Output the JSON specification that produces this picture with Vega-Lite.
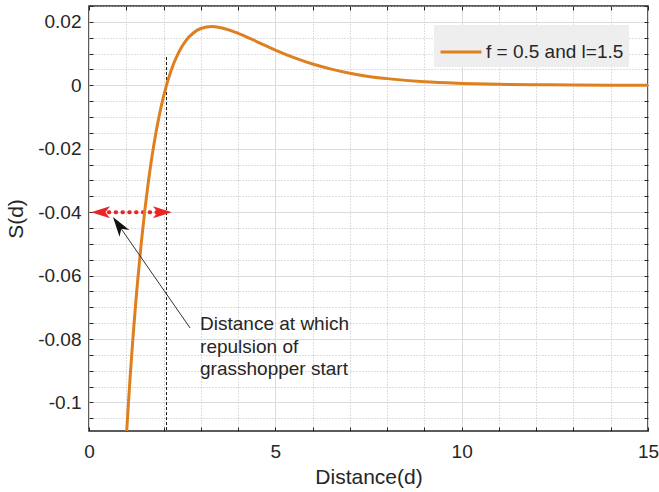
{
  "$schema": "https://vega.github.io/schema/vega-lite/v6.json",
  "width": 559,
  "height": 425,
  "autosize": "none",
  "padding": {"left": 89, "top": 6, "right": 11, "bottom": 61},
  "background": "white",
  "config": {
    "font": "Liberation Sans",
    "view": {"stroke": "#262626", "strokeWidth": 1.5},
    "axis": {
      "labelFont": "Liberation Sans",
      "titleFont": "Liberation Sans",
      "labelColor": "#262626",
      "titleColor": "#262626",
      "tickColor": "#262626",
      "domain": false,
      "labelFontSize": 19,
      "titleFontSize": 21,
      "titleFontWeight": "normal",
      "labelOverlap": false,
      "labelFlush": false
    }
  },
  "datasets": {
    "curve": [
      {"x": 0.95, "y": -0.1213, "series": "f = 0.5 and l=1.5"},
      {"x": 1.0, "y": -0.1112, "series": "f = 0.5 and l=1.5"},
      {"x": 1.05, "y": -0.1017, "series": "f = 0.5 and l=1.5"},
      {"x": 1.1, "y": -0.0927, "series": "f = 0.5 and l=1.5"},
      {"x": 1.15, "y": -0.0844, "series": "f = 0.5 and l=1.5"},
      {"x": 1.2, "y": -0.0765, "series": "f = 0.5 and l=1.5"},
      {"x": 1.25, "y": -0.0692, "series": "f = 0.5 and l=1.5"},
      {"x": 1.3, "y": -0.0624, "series": "f = 0.5 and l=1.5"},
      {"x": 1.4, "y": -0.0500, "series": "f = 0.5 and l=1.5"},
      {"x": 1.5, "y": -0.0392, "series": "f = 0.5 and l=1.5"},
      {"x": 1.6, "y": -0.0298, "series": "f = 0.5 and l=1.5"},
      {"x": 1.7, "y": -0.0217, "series": "f = 0.5 and l=1.5"},
      {"x": 1.8, "y": -0.0147, "series": "f = 0.5 and l=1.5"},
      {"x": 1.9, "y": -0.0087, "series": "f = 0.5 and l=1.5"},
      {"x": 2.0, "y": -0.0035, "series": "f = 0.5 and l=1.5"},
      {"x": 2.2, "y": 0.0046, "series": "f = 0.5 and l=1.5"},
      {"x": 2.4, "y": 0.0102, "series": "f = 0.5 and l=1.5"},
      {"x": 2.6, "y": 0.0141, "series": "f = 0.5 and l=1.5"},
      {"x": 2.8, "y": 0.0165, "series": "f = 0.5 and l=1.5"},
      {"x": 3.0, "y": 0.0179, "series": "f = 0.5 and l=1.5"},
      {"x": 3.3, "y": 0.0185, "series": "f = 0.5 and l=1.5"},
      {"x": 3.6, "y": 0.0180, "series": "f = 0.5 and l=1.5"},
      {"x": 4.0, "y": 0.0164, "series": "f = 0.5 and l=1.5"},
      {"x": 4.5, "y": 0.0138, "series": "f = 0.5 and l=1.5"},
      {"x": 5.0, "y": 0.0111, "series": "f = 0.5 and l=1.5"},
      {"x": 5.5, "y": 0.0087, "series": "f = 0.5 and l=1.5"},
      {"x": 6.0, "y": 0.0067, "series": "f = 0.5 and l=1.5"},
      {"x": 6.5, "y": 0.0051, "series": "f = 0.5 and l=1.5"},
      {"x": 7.0, "y": 0.0038, "series": "f = 0.5 and l=1.5"},
      {"x": 7.5, "y": 0.0028, "series": "f = 0.5 and l=1.5"},
      {"x": 8.0, "y": 0.0021, "series": "f = 0.5 and l=1.5"},
      {"x": 9.0, "y": 0.0011, "series": "f = 0.5 and l=1.5"},
      {"x": 10.0, "y": 0.0006, "series": "f = 0.5 and l=1.5"},
      {"x": 11.0, "y": 0.0003, "series": "f = 0.5 and l=1.5"},
      {"x": 12.0, "y": 0.00016, "series": "f = 0.5 and l=1.5"},
      {"x": 13.0, "y": 0.00008, "series": "f = 0.5 and l=1.5"},
      {"x": 14.0, "y": 0.00004, "series": "f = 0.5 and l=1.5"},
      {"x": 15.0, "y": 0.00002, "series": "f = 0.5 and l=1.5"}
    ],
    "vdash": [{"x": 2.08, "y": 0.0089, "y2": -0.109}],
    "reddots": [{"x": 0.35, "x2": 1.95, "y": -0.04}],
    "redheads": [
      {"x": 0.31, "y": -0.04, "dir": "left"},
      {"x": 1.97, "y": -0.04, "dir": "right"}
    ],
    "shaft": [{"x": 2.711, "y": -0.0765, "x2": 0.797, "y2": -0.0441}],
    "blackhead": [{"x": 0.797, "y": -0.0441}],
    "notes": [
      {"x": 2.98, "y": -0.0772, "t": "Distance at which"},
      {"x": 2.98, "y": -0.0843, "t": "repulsion of"},
      {"x": 2.98, "y": -0.0913, "t": "grasshopper start"}
    ]
  },
  "encoding": {
    "x": {"field": "x", "type": "quantitative", "scale": {"domain": [0, 15], "nice": false, "zero": false}, "axis": null},
    "y": {"field": "y", "type": "quantitative", "scale": {"domain": [-0.109, 0.025], "nice": false, "zero": false}, "axis": null}
  },
  "layer": [
    {
      "data": {"name": "vdash"},
      "mark": {"type": "rule", "color": "#1a1a1a", "strokeWidth": 1, "strokeDash": [3, 2]},
      "encoding": {
        "y2": {"field": "y2"}
      }
    },
    {
      "data": {"name": "reddots"},
      "mark": {"type": "rule", "color": "#e8262a", "strokeWidth": 4, "strokeCap": "round", "strokeDash": [0.5, 6.3]},
      "encoding": {
        "x2": {"field": "x2"}
      }
    },
    {
      "data": {"name": "redheads"},
      "mark": {"type": "point", "filled": true, "color": "#e8262a", "opacity": 1, "size": 361},
      "encoding": {
        "shape": {
          "field": "dir",
          "type": "nominal",
          "scale": {"domain": ["left", "right"], "range": ["M-1,0L1,-0.63L0.5,0L1,0.63Z", "M1,0L-1,-0.63L-0.5,0L-1,0.63Z"]},
          "legend": null
        }
      }
    },
    {
      "data": {"name": "curve"},
      "mark": {"type": "line", "strokeWidth": 3, "interpolate": "monotone", "clip": true},
      "encoding": {
        "x": {
          "field": "x", "type": "quantitative",
          "scale": {"domain": [0, 15], "nice": false, "zero": false},
          "axis": {
            "orient": "bottom",
            "title": "Distance(d)",
            "values": [0, 1, 2, 3, 4, 5, 6, 7, 8, 9, 10, 11, 12, 13, 14, 15],
            "labelExpr": "datum.value % 5 === 0 ? datum.label : ''",
            "tickSize": -4,
            "labelPadding": 15,
            "titlePadding": 5,
            "grid": true,
            "gridColor": {"condition": {"test": "datum.value % 5 === 0", "value": "#dcdcdc"}, "value": "#bdbdbd"},
            "gridDash": {"condition": {"test": "datum.value % 5 === 0", "value": []}, "value": [1, 2]}
          }
        },
        "y": {
          "field": "y", "type": "quantitative",
          "scale": {"domain": [-0.109, 0.025], "nice": false, "zero": false},
          "axis": {
            "orient": "left",
            "title": "S(d)",
            "values": [-0.105, -0.1, -0.095, -0.09, -0.085, -0.08, -0.075, -0.07, -0.065, -0.06, -0.055, -0.05, -0.045, -0.04, -0.035, -0.03, -0.025, -0.02, -0.015, -0.01, -0.005, 0, 0.005, 0.01, 0.015, 0.02, 0.025],
            "labelExpr": "round(datum.value * 1000) % 20 === 0 ? (datum.value === 0 ? '0' : '' + datum.value) : ''",
            "tickSize": -4,
            "labelPadding": 12,
            "titlePadding": 11,
            "grid": true,
            "gridColor": {"condition": {"test": "round(datum.value * 1000) % 20 === 0", "value": "#dcdcdc"}, "value": "#bdbdbd"},
            "gridDash": {"condition": {"test": "round(datum.value * 1000) % 20 === 0", "value": []}, "value": [1, 2]}
          }
        },
        "color": {
          "field": "series",
          "type": "nominal",
          "scale": {"range": ["#DE7F20"]},
          "legend": {
            "orient": "top-right",
            "offset": 19,
            "title": null,
            "fillColor": "#eeeeee",
            "padding": 5,
            "labelFontSize": 19,
            "labelFont": "Liberation Sans",
            "labelColor": "#262626",
            "symbolType": "stroke",
            "symbolStrokeWidth": 3,
            "symbolSize": 1680,
            "labelOffset": 3
          }
        }
      }
    },
    {
      "data": {"name": "shaft"},
      "mark": {"type": "rule", "color": "#333333", "strokeWidth": 1},
      "encoding": {
        "x2": {"field": "x2"},
        "y2": {"field": "y2"}
      }
    },
    {
      "data": {"name": "blackhead"},
      "mark": {"type": "point", "filled": true, "color": "#111111", "opacity": 1, "size": 400, "angle": 235, "shape": "M1,0L-1,-0.6L-0.45,0L-1,0.6Z"},
      "encoding": {
        "x": {
          "field": "x", "type": "quantitative",
          "scale": {"domain": [0, 15], "nice": false, "zero": false},
          "axis": {
            "orient": "top",
            "title": null,
            "values": [0, 1, 2, 3, 4, 5, 6, 7, 8, 9, 10, 11, 12, 13, 14, 15],
            "labels": false,
            "tickSize": -4,
            "grid": false
          }
        },
        "y": {
          "field": "y", "type": "quantitative",
          "scale": {"domain": [-0.109, 0.025], "nice": false, "zero": false},
          "axis": {
            "orient": "right",
            "title": null,
            "values": [-0.105, -0.1, -0.095, -0.09, -0.085, -0.08, -0.075, -0.07, -0.065, -0.06, -0.055, -0.05, -0.045, -0.04, -0.035, -0.03, -0.025, -0.02, -0.015, -0.01, -0.005, 0, 0.005, 0.01, 0.015, 0.02, 0.025],
            "labels": false,
            "tickSize": -4,
            "grid": false
          }
        }
      }
    },
    {
      "data": {"name": "notes"},
      "mark": {"type": "text", "align": "left", "baseline": "alphabetic", "fontSize": 19, "font": "Liberation Sans", "color": "#262626"},
      "encoding": {
        "text": {"field": "t"}
      }
    }
  ],
  "resolve": {"axis": {"x": "independent", "y": "independent"}}
}
